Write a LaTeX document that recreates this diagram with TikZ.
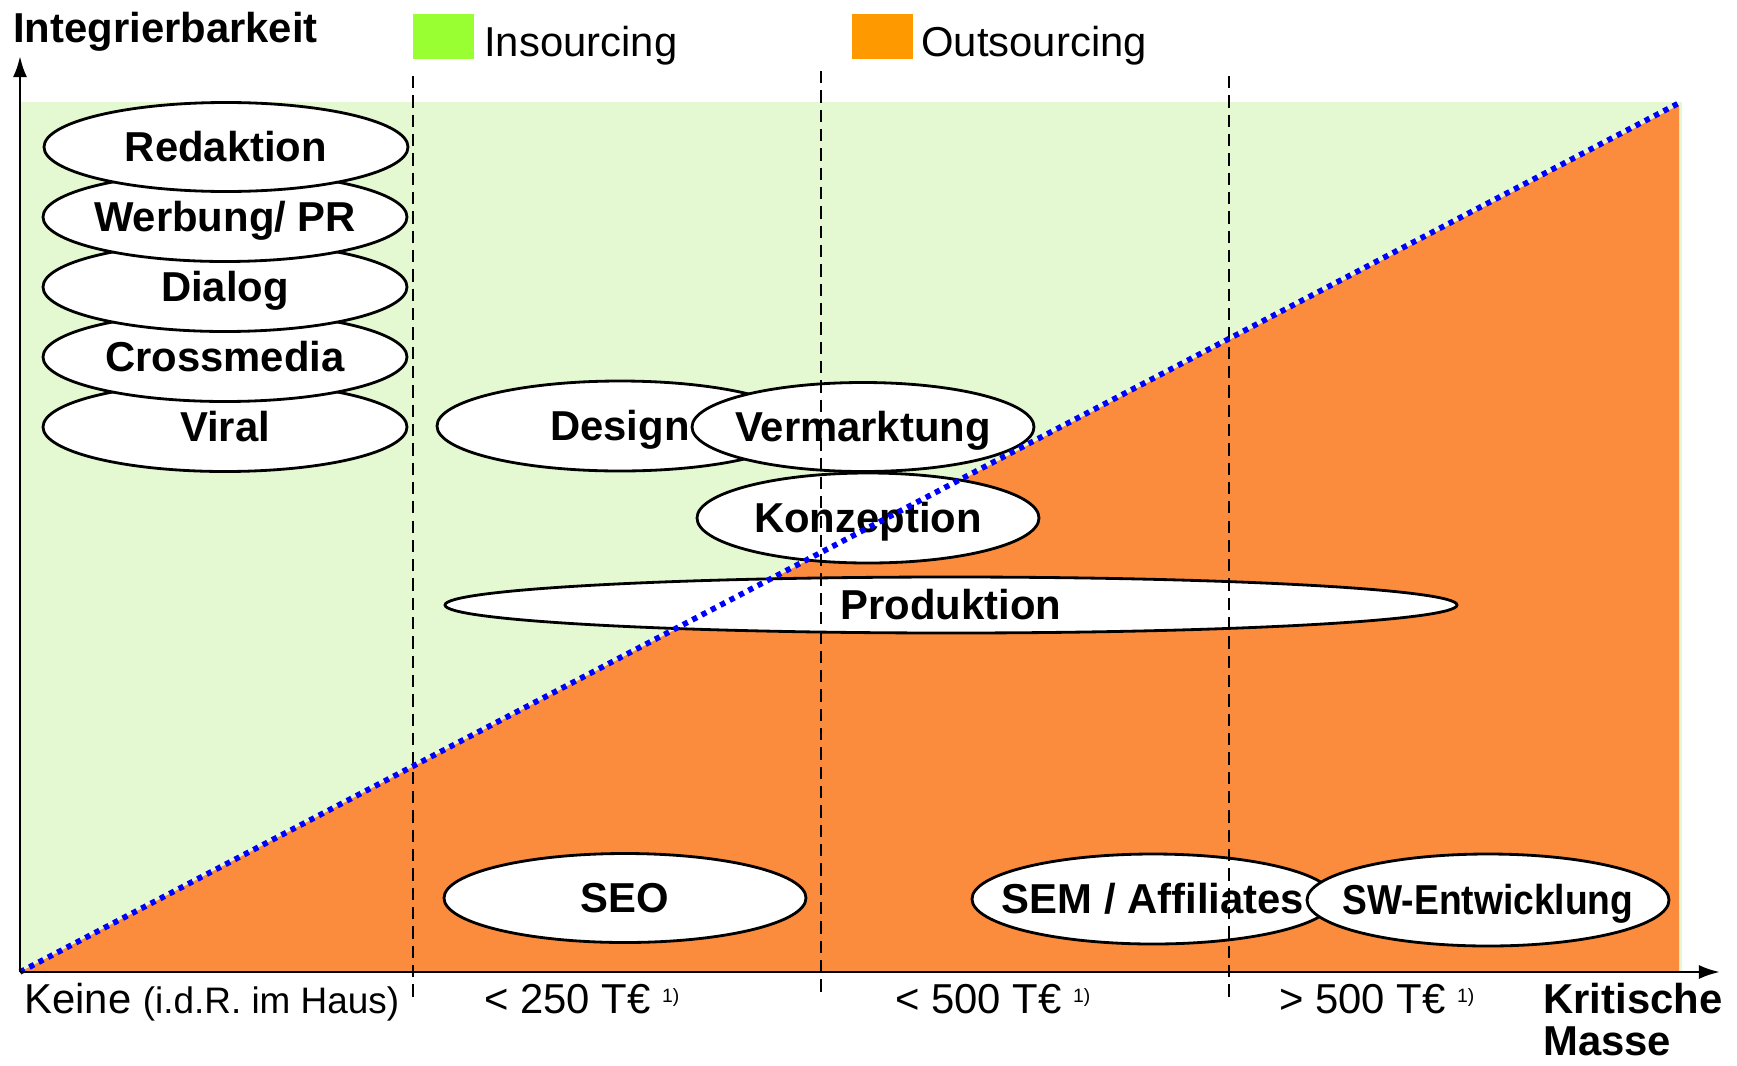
\documentclass[tikz,border=0pt]{standalone}
\usepackage{fontspec}
\usepackage{graphicx}
\setmainfont{Liberation Sans}
\usetikzlibrary{shapes.geometric,arrows.meta}

\definecolor{insgreen}{RGB}{153,255,51}
\definecolor{outorange}{RGB}{255,153,0}
\definecolor{insback}{RGB}{228,249,210}
\definecolor{outback}{RGB}{251,140,62}
\definecolor{dotblue}{RGB}{0,0,255}

\begin{document}
\begin{tikzpicture}[%
      x=0.02cm, y=-0.02cm,
      task/.style 2 args={ellipse, draw=black, fill=white, line width=1.6pt,
        inner sep=0pt, minimum width=#1*0.02cm, minimum height=#2*0.02cm,
        text height=17pt, text depth=0pt,
        font=\bfseries\fontsize{23.8}{26}\selectfont},
      axlabel/.style={anchor=base west, inner sep=0pt,
        font=\fontsize{23.8}{26}\selectfont},
      boldlabel/.style={anchor=base west, inner sep=0pt, align=left,
        font=\bfseries\fontsize{23.8}{23.6}\selectfont},
      legendbox/.style={fill=#1, minimum width=61*0.02cm, minimum height=45*0.02cm, inner sep=0pt},
      segline/.style={line width=1.3pt, dash pattern=on 7pt off 4pt},
      axisline/.style={line width=1.6pt, -{Latex[length=12pt,width=8pt]}},
      ]
      \useasboundingbox (0,0) rectangle (1737,1065);

      % background areas
      \fill [insback] (20,102) rectangle (1682,972);
      \fill [outback] (20,972) -- (1679,105) -- (1679,972) -- cycle;

      % legend
      \node [legendbox=insgreen] (insbox) at (443,36.5) {};
      \node [axlabel] (instext) at (484,56) {Insourcing};
      \node [legendbox=outorange] (outbox) at (882,36.5) {};
      \node [axlabel] (outtext) at (921,56) {Outsourcing};

      % tasks
      \node [task={364}{89}] (viral) at (225,427) {\makebox[0pt]{Viral}};
      \node [task={364}{89}] (crossmedia) at (225,357) {\makebox[0pt]{Crossmedia}};
      \node [task={364}{89}] (dialog) at (225,287) {\makebox[0pt]{Dialog}};
      \node [task={364}{89}] (werbung) at (225,217) {\makebox[0pt]{Werbung/ PR}};
      \node [task={364}{89}] (redaktion) at (226,147) {\makebox[0pt]{Redaktion}};

      \node [task={366}{90}] (design) at (620,426) {\makebox[0pt]{Design}};
      \node [task={342}{89}] (vermarktung) at (863,427) {\makebox[0pt]{Vermarktung}};
      \node [task={342}{90}] (konzeption) at (868,518) {\makebox[0pt]{Konzeption}};
      \node [task={1012}{56}] (produktion) at (951,605) {\makebox[0pt]{Produktion}};

      \node [task={362}{89}] (seo) at (625,898) {\makebox[0pt]{SEO}};
      \node [task={362}{90}] (sem) at (1153,899) {\makebox[0pt]{SEM / Affiliates}};
      \node [task={362}{92}] (swentw) at (1488,900) {\makebox[0pt]{\scalebox{0.89}[1]{SW-Entwicklung}}};

      % segments
      \foreach \x/\t in {413/76, 821/71, 1229/76}
        \draw [segline] (\x,\t) -- (\x,998);

      % border line
      \coordinate (origin) at (20,972);
      \coordinate (corner) at (1679,103);
      \draw [dotblue, line width=3.2pt, dash pattern=on 3pt off 3pt] (origin) -- (corner);

      % axes
      \coordinate (ytip) at (20,56);
      \coordinate (xtip) at (1720,972);
      \draw [axisline] (origin) -- (ytip);
      \draw [axisline] (origin) -- (xtip);

      \node [boldlabel] (ylabel) at (13,42) {Integrierbarkeit};
      \node [boldlabel] (xlabel) at (1543,1055) {Kritische\\Masse};

      \node [axlabel] (keine) at (24,1013) {Keine {\fontsize{21}{24}\selectfont(i.d.R. im Haus)}};
      \node [axlabel] (klein) at (484,1013) {< 250 T€ \raisebox{6pt}{\fontsize{11}{12}\selectfont 1)}};
      \node [axlabel] (mittel) at (895,1013) {< 500 T€ \raisebox{6pt}{\fontsize{11}{12}\selectfont 1)}};
      \node [axlabel] (gross) at (1279,1013) {> 500 T€ \raisebox{6pt}{\fontsize{11}{12}\selectfont 1)}};
      \end{tikzpicture}
\end{document}
